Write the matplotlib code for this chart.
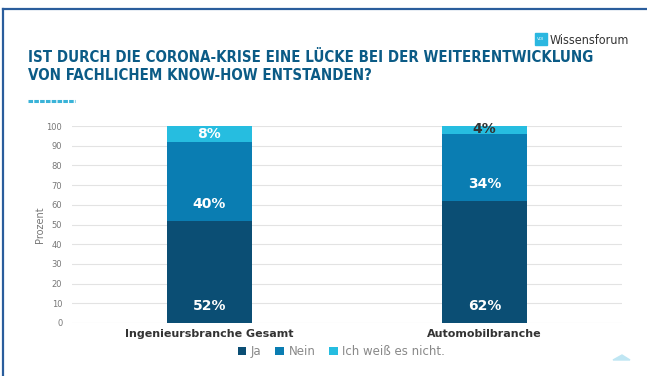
import matplotlib.pyplot as plt
import numpy as np
from matplotlib.patches import Rectangle, Polygon
from matplotlib.lines import Line2D

categories = ['Ingenieursbranche Gesamt', 'Automobilbranche']
series_names = ['Ja', 'Nein', 'Ich weiß es nicht.']
ja = [52, 62]
nein = [40, 34]
weiss_nicht = [8, 4]
yticks = [0, 10, 20, 30, 40, 50, 60, 70, 80, 90, 100]

colors = ['#0b4e74', '#0a7db2', '#26bde0']

fig = plt.figure(figsize=(6.47, 3.76), dpi=100)
fig.patch.set_facecolor('white')

# frame lines (top and left)
fig.add_artist(Line2D([3 / 647, 1], [1 - 9 / 376, 1 - 9 / 376], color='#2a5d9c', lw=1.6,
                      transform=fig.transFigure))
fig.add_artist(Line2D([3 / 647, 3 / 647], [0, 1 - 9 / 376], color='#2a5d9c', lw=1.6,
                      transform=fig.transFigure))

# title
title_font = dict(family='DejaVu Sans', fontstretch='condensed', fontweight='bold', color='#0b5b86')
fig.text(28 / 647, 1 - 57 / 376, 'IST DURCH DIE CORONA-KRISE EINE LÜCKE BEI DER WEITERENTWICKLUNG',
         fontsize=10.8, va='center', ha='left', **title_font)
fig.text(28 / 647, 1 - 76 / 376, 'VON FACHLICHEM KNOW-HOW ENTSTANDEN?',
         fontsize=10.8, va='center', ha='left', **title_font)
fig.add_artist(Line2D([28 / 647, 75 / 647], [1 - 101 / 376, 1 - 101 / 376], color='#3ab3d8',
                      lw=2.2, ls=(0, (1.5, 0.4)), transform=fig.transFigure))

# logo
fig.add_artist(Rectangle((535 / 647, 1 - 45 / 376), 12 / 647, 12 / 376, color='#2bb7e0',
                         transform=fig.transFigure))
fig.text(541 / 647, 1 - 39 / 376, 'VDI', fontsize=3, color='white', ha='center', va='center')
fig.text(550 / 647, 1 - 41 / 376, 'Wissensforum', fontsize=9, color='#333333', ha='left',
         va='center', fontstretch='condensed')

# bottom right decoration
fig.add_artist(Polygon([(613 / 647, 1 - 360 / 376), (630 / 647, 1 - 360 / 376),
                        (622 / 647, 1 - 355 / 376)], closed=True, color='#bfe6f3',
                       transform=fig.transFigure))

ax = fig.add_axes([72 / 647, 1 - 323 / 376, 550 / 647, 197 / 376])
x = np.arange(len(categories))
width = 0.31
data = [ja, nein, weiss_nicht]
bottom = np.zeros(len(categories))
for i, vals in enumerate(data):
    vals = np.array(vals, dtype=float)
    ax.bar(x, vals, width, bottom=bottom, color=colors[i], label=series_names[i], zorder=3)
    for j, v in enumerate(vals):
        ypos = bottom[j] + min(v / 2, 8.5)
        col = 'white'
        if v < 5:
            col = '#333333'
            ypos = bottom[j] + v / 2 + 0.5
        ax.text(x[j], ypos, f'{int(v)}%', ha='center', va='center', color=col,
                fontsize=10, fontweight='bold', zorder=4)
    bottom += vals

ax.set_xlim(-0.5, 1.5)
ax.set_ylim(0, 100)
ax.set_yticks(yticks)
ax.tick_params(axis='y', labelsize=6, colors='#777777', length=0, pad=7)
ax.tick_params(axis='x', length=0, pad=4)
ax.set_xticks(x)
ax.set_xticklabels(categories, fontsize=8, fontweight='bold', color='#333333')
ax.set_ylabel('Prozent', fontsize=7, color='#777777', labelpad=1)
ax.grid(axis='y', color='#e3e3e3', lw=0.8, zorder=0)
for s in ax.spines.values():
    s.set_visible(False)

leg = ax.legend(loc='upper center', bbox_to_anchor=(0.49, -0.06), ncol=3, frameon=False,
                fontsize=8.5, handlelength=0.7, handleheight=0.7, handletextpad=0.4,
                columnspacing=1.2, labelcolor='#888888')

fig.savefig('out.png', dpi=100)
